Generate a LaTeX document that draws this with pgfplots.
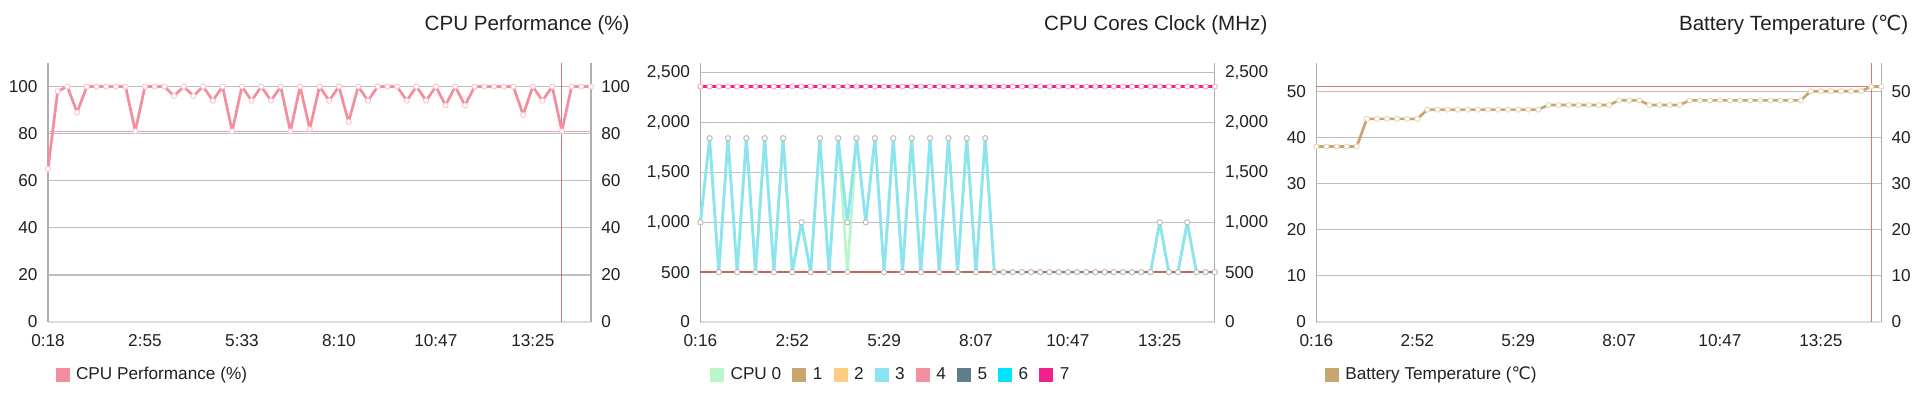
\documentclass[border=0pt]{standalone}
\usepackage{fontspec}
\setmainfont{Liberation Sans}
\newfontfamily\djv{DejaVu Sans}
\usepackage{pgfplots}
\pgfplotsset{compat=1.18}

\definecolor{txt}{RGB}{33,33,33}
\definecolor{gridc}{RGB}{190,190,190}
\definecolor{axc}{RGB}{175,175,175}
\definecolor{botc}{RGB}{220,220,220}
\definecolor{perf}{RGB}{244,141,157}
\definecolor{c0}{RGB}{185,246,202}
\definecolor{c1}{RGB}{200,166,110}
\definecolor{c2}{RGB}{255,204,128}
\definecolor{c3}{RGB}{140,227,241}
\definecolor{c4}{RGB}{244,143,160}
\definecolor{c5}{RGB}{96,125,139}
\definecolor{c6}{RGB}{0,229,255}
\definecolor{c7}{RGB}{240,32,140}
\definecolor{batt}{RGB}{200,166,110}
\definecolor{crossA}{RGB}{200,120,120}
\definecolor{crossB}{RGB}{240,160,170}
\definecolor{crossC}{RGB}{222,120,110}
\definecolor{crossD}{RGB}{192,104,94}

\newcommand\tickfont{\fontsize{8.6}{10}\selectfont}
\newcommand\titlefont{\fontsize{10.3}{12}\selectfont}

\pgfplotsset{
  panel/.style={
    scale only axis, anchor=south west,
    height=129.5pt,
    axis x line=bottom, axis y line=box,
    x axis line style={-, draw=botc, line width=0.6pt},
    y axis line style={-, draw=axc, line width=0.6pt},
    every outer x axis line/.append style={-},
    every outer y axis line/.append style={-},
    xmin=0, xmax=56,
    xtick={0,10,20,30,40,50},
    ymajorgrids, major grid style={draw=gridc, line width=0.6pt},
    major tick length=0pt,
    ytick pos=left,
    tick label style={font=\tickfont, text=txt},
    xticklabel style={yshift=-2.6pt},
    yticklabel style={xshift=-1.7pt},
    /pgf/number format/.cd, 1000 sep={,}, assume math mode=true, /pgfplots/.cd,
    clip=false,
    legend style={draw=none, fill=none, inner sep=0pt, outer sep=0pt,
      font=\tickfont\color{txt}, legend columns=-1,
      /tikz/every odd column/.append style={column sep=1.2pt},
      /tikz/every even column/.append style={column sep=3.6pt}},
    legend cell align=left,
    legend image code/.code={\fill[##1,draw=none] (0pt,-3.5pt) rectangle (7pt,3.5pt);},
  },
  rightlab/.style={
    scale only axis, anchor=south west,
    height=129.5pt,
    axis x line=none, axis y line*=right,
    y axis line style={draw=none},
    xmin=0, xmax=56, xtick=\empty,
    major tick length=0pt,
    tick label style={font=\tickfont, text=txt},
    yticklabel style={xshift=1.6pt},
    /pgf/number format/.cd, 1000 sep={,}, assume math mode=true, /pgfplots/.cd,
  },
  ser/.style={line width=1.35pt, line join=round, mark=*, mark size=1.3pt,
    mark options={fill=white, draw=black!28, line width=0.4pt, solid}},
}

\begin{document}
\begin{tikzpicture}[x=1pt,y=1pt]
\path[use as bounding box] (0,0) rectangle (960,197);

% ---------------- Panel 1 ----------------
\begin{axis}[panel, at={(24pt,36pt)}, width=271.5pt, ymin=0, ymax=110,
  ytick={0,20,40,60,80,100},
  xticklabels={0:18,2:55,5:33,8:10,10:47,13:25},
  legend style={at={(axis description cs:0.014,-0.205)}, anchor=west}]
\addlegendimage{perf}
\addlegendentry{CPU Performance (\%)}
\addplot[forget plot, crossA, line width=0.55pt] coordinates {(53,0) (53,110)};
\addplot[forget plot, crossB, line width=0.6pt] coordinates {(0,81) (56,81)};
\addplot[forget plot, ser, perf, mark options={fill=white, draw=perf!55, line width=0.4pt}] coordinates {
(0,65)(1,98)(2,100)(3,89)(4,100)(5,100)(6,100)(7,100)(8,100)(9,81)
(10,100)(11,100)(12,100)(13,96)(14,100)(15,96)(16,100)(17,94)(18,100)(19,81)
(20,100)(21,94)(22,100)(23,94)(24,100)(25,81)(26,100)(27,82)(28,100)(29,94)
(30,100)(31,85)(32,100)(33,94)(34,100)(35,100)(36,100)(37,94)(38,100)(39,94)
(40,100)(41,92)(42,100)(43,92)(44,100)(45,100)(46,100)(47,100)(48,100)(49,88)
(50,100)(51,94)(52,100)(53,81)(54,100)(55,100)(56,100)};
\end{axis}
\begin{axis}[rightlab, at={(24pt,36pt)}, width=271.5pt, ymin=0, ymax=110,
  ytick={0,20,40,60,80,100}]
\addplot[draw=none] coordinates {(0,0)};
\end{axis}
\node[anchor=base east, inner sep=0pt, font=\titlefont, text=txt] at (315,181.75) {CPU Performance (\%)};

% ---------------- Panel 2 ----------------
\begin{axis}[panel, at={(350.2pt,36pt)}, width=257.2pt, ymin=0, ymax=2598,
  ytick={0,500,1000,1500,2000,2500},
  xticklabels={0:16,2:52,5:29,8:07,10:47,13:25},
  legend style={at={(axis description cs:0.019,-0.205)}, anchor=west}]
\addlegendimage{c0}\addlegendentry{CPU 0}
\addlegendimage{c1}\addlegendentry{1}
\addlegendimage{c2}\addlegendentry{2}
\addlegendimage{c3}\addlegendentry{3}
\addlegendimage{c4}\addlegendentry{4}
\addlegendimage{c5}\addlegendentry{5}
\addlegendimage{c6}\addlegendentry{6}
\addlegendimage{c7}\addlegendentry{7}
% CPU 0
\addplot[forget plot, ser, c0] coordinates {
(0,1000)(1,1843)(2,500)(3,1843)(4,500)(5,1843)(6,500)(7,1843)(8,500)(9,1843)
(10,500)(11,1000)(12,500)(13,1843)(14,500)(15,1843)(16,500)(17,1843)(18,1000)(19,1843)
(20,500)(21,1843)(22,500)(23,1843)(24,500)(25,1843)(26,500)(27,1843)(28,500)(29,1843)
(30,500)(31,1843)(32,500)(33,500)(34,500)(35,500)(36,500)(37,500)(38,500)(39,500)
(40,500)(41,500)(42,500)(43,500)(44,500)(45,500)(46,500)(47,500)(48,500)(49,500)
(50,1000)(51,500)(52,500)(53,1000)(54,500)(55,500)(56,500)};
% CPU 3
\addplot[forget plot, ser, c3] coordinates {
(0,1000)(1,1843)(2,500)(3,1843)(4,500)(5,1843)(6,500)(7,1843)(8,500)(9,1843)
(10,500)(11,1000)(12,500)(13,1843)(14,500)(15,1843)(16,1000)(17,1843)(18,1000)(19,1843)
(20,500)(21,1843)(22,500)(23,1843)(24,500)(25,1843)(26,500)(27,1843)(28,500)(29,1843)
(30,500)(31,1843)(32,500)(33,500)(34,500)(35,500)(36,500)(37,500)(38,500)(39,500)
(40,500)(41,500)(42,500)(43,500)(44,500)(45,500)(46,500)(47,500)(48,500)(49,500)
(50,1000)(51,500)(52,500)(53,1000)(54,500)(55,500)(56,500)};
% CPU 7
\addplot[forget plot, ser, c7, line width=1.2pt, mark options={fill=white, draw=c7!45, line width=0.4pt}] coordinates {
(0,2362)(1,2362)(2,2362)(3,2362)(4,2362)(5,2362)(6,2362)(7,2362)(8,2362)(9,2362)
(10,2362)(11,2362)(12,2362)(13,2362)(14,2362)(15,2362)(16,2362)(17,2362)(18,2362)(19,2362)
(20,2362)(21,2362)(22,2362)(23,2362)(24,2362)(25,2362)(26,2362)(27,2362)(28,2362)(29,2362)
(30,2362)(31,2362)(32,2362)(33,2362)(34,2362)(35,2362)(36,2362)(37,2362)(38,2362)(39,2362)
(40,2362)(41,2362)(42,2362)(43,2362)(44,2362)(45,2362)(46,2362)(47,2362)(48,2362)(49,2362)
(50,2362)(51,2362)(52,2362)(53,2362)(54,2362)(55,2362)(56,2362)};
\addplot[forget plot, crossD, line width=0.75pt] coordinates {(0,500) (56,500)};
\end{axis}
\begin{axis}[rightlab, at={(350.2pt,36pt)}, width=257.2pt, ymin=0, ymax=2598,
  ytick={0,500,1000,1500,2000,2500}]
\addplot[draw=none] coordinates {(0,0)};
\end{axis}
\node[anchor=base east, inner sep=0pt, font=\titlefont, text=txt] at (633.9,181.75) {CPU Cores Clock (MHz)};

% ---------------- Panel 3 ----------------
\begin{axis}[panel, at={(658.2pt,36pt)}, width=282.5pt, ymin=0, ymax=56.1,
  ytick={0,10,20,30,40,50},
  xticklabels={0:16,2:52,5:29,8:07,10:47,13:25},
  legend style={at={(axis description cs:0.015,-0.205)}, anchor=west}]
\addlegendimage{batt}
\addlegendentry{Battery Temperature ({\djv ℃})}
\addplot[forget plot, crossC, line width=0.55pt] coordinates {(55,0) (55,56.1)};
\addplot[forget plot, crossC, line width=0.55pt] coordinates {(0,51) (56,51)};
\addplot[forget plot, ser, batt, mark options={fill=white, draw=batt!50, line width=0.4pt}] coordinates {
(0,38)(1,38)(2,38)(3,38)(4,38)(5,44)(6,44)(7,44)(8,44)(9,44)
(10,44)(11,46)(12,46)(13,46)(14,46)(15,46)(16,46)(17,46)(18,46)(19,46)
(20,46)(21,46)(22,46)(23,47)(24,47)(25,47)(26,47)(27,47)(28,47)(29,47)
(30,48)(31,48)(32,48)(33,47)(34,47)(35,47)(36,47)(37,48)(38,48)(39,48)
(40,48)(41,48)(42,48)(43,48)(44,48)(45,48)(46,48)(47,48)(48,48)(49,50)
(50,50)(51,50)(52,50)(53,50)(54,50)(55,51)(56,51)};
\end{axis}
\begin{axis}[rightlab, at={(658.2pt,36pt)}, width=282.5pt, ymin=0, ymax=56.1,
  ytick={0,10,20,30,40,50}]
\addplot[draw=none] coordinates {(0,0)};
\end{axis}
\node[anchor=base east, inner sep=0pt, font=\titlefont, text=txt] at (954.3,181.75) {Battery Temperature ({\djv ℃})};
\end{tikzpicture}
\end{document}
